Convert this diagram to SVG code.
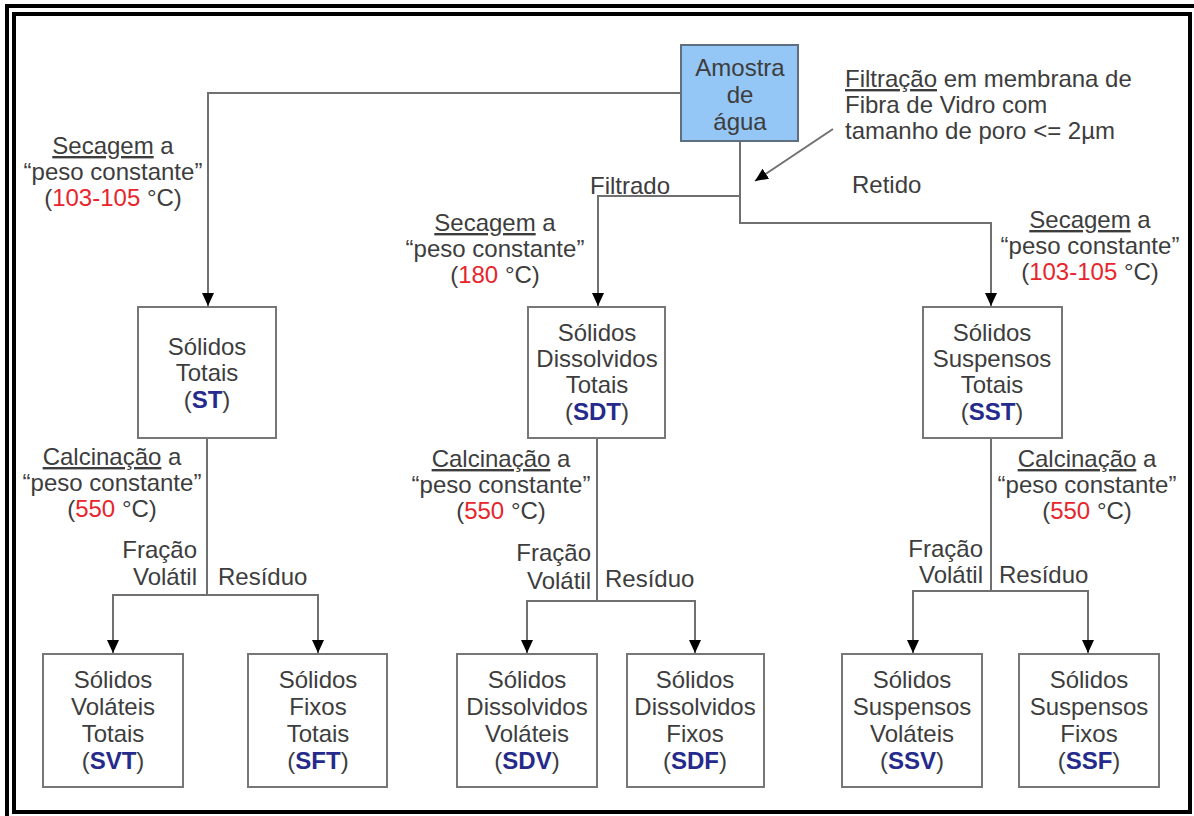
<svg xmlns="http://www.w3.org/2000/svg" width="1194" height="816" viewBox="0 0 1194 816">
<defs>
<marker id="arr" markerUnits="userSpaceOnUse" markerWidth="14" markerHeight="14" refX="13" refY="6" orient="auto">
<path d="M0,0 L13,6 L0,12 Z" fill="#000"/>
</marker>
<style>
text{font-family:"Liberation Sans",Arial,sans-serif;font-size:24px;fill:#3d3d3d}
.c{text-anchor:middle}
.e{text-anchor:end}
.u{text-decoration:underline}
.r{fill:#e8242c}
.b{fill:#252a8c;font-weight:bold}
.box{fill:#fff;stroke:#777;stroke-width:2}
.ln{fill:none;stroke:#707070;stroke-width:2}
</style>
</defs>
<rect x="0" y="0" width="1194" height="816" fill="#fff"/>
<g id="frame">
<rect x="5" y="4" width="1189" height="4" fill="#000"/>
<rect x="5" y="4" width="4" height="812" fill="#000"/>
<rect x="14" y="14" width="1176" height="798" fill="none" stroke="#000" stroke-width="4"/>
</g>
<g id="connectors">
<path class="ln" d="M681,93 H208 V306" marker-end="url(#arr)"/>
<path class="ln" d="M740,141 V196 H598 V306" marker-end="url(#arr)"/>
<path class="ln" d="M740,196 V223 H991 V306" marker-end="url(#arr)"/>
<path class="ln" d="M833,129 L755,181" marker-end="url(#arr)"/>
<path class="ln" d="M207,438 V595 H113 V653" marker-end="url(#arr)"/>
<path class="ln" d="M207,595 H318 V653" marker-end="url(#arr)"/>
<path class="ln" d="M597,438 V601 H527 V653" marker-end="url(#arr)"/>
<path class="ln" d="M597,601 H695 V653" marker-end="url(#arr)"/>
<path class="ln" d="M991,438 V591 H913 V653" marker-end="url(#arr)"/>
<path class="ln" d="M991,591 H1088 V653" marker-end="url(#arr)"/>
</g>
<g id="amostra">
<rect x="681" y="45" width="117" height="96" fill="#94c6f6" stroke="#5f6f80" stroke-width="2"/>
<text class="c" x="740" y="76">Amostra</text>
<text class="c" x="740" y="103">de</text>
<text class="c" x="740" y="130">água</text>
</g>
<g id="st">
<rect class="box" x="138" y="307" width="138" height="131"/>
<text class="c" x="207" y="355">Sólidos</text>
<text class="c" x="207" y="381">Totais</text>
<text class="c" x="207" y="408">(<tspan class="b">ST</tspan>)</text>
</g>
<g id="sdt">
<rect class="box" x="528" y="307" width="137" height="131"/>
<text class="c" x="597" y="341">Sólidos</text>
<text class="c" x="597" y="367">Dissolvidos</text>
<text class="c" x="597" y="393">Totais</text>
<text class="c" x="597" y="420">(<tspan class="b">SDT</tspan>)</text>
</g>
<g id="sst">
<rect class="box" x="923" y="307" width="139" height="131"/>
<text class="c" x="992" y="341">Sólidos</text>
<text class="c" x="992" y="367">Suspensos</text>
<text class="c" x="992" y="393">Totais</text>
<text class="c" x="992" y="420">(<tspan class="b">SST</tspan>)</text>
</g>
<g id="svt">
<rect class="box" x="43" y="654" width="140" height="133"/>
<text class="c" x="113" y="688">Sólidos</text>
<text class="c" x="113" y="715">Voláteis</text>
<text class="c" x="113" y="742">Totais</text>
<text class="c" x="113" y="769">(<tspan class="b">SVT</tspan>)</text>
</g>
<g id="sft">
<rect class="box" x="248" y="654" width="139" height="133"/>
<text class="c" x="318" y="688">Sólidos</text>
<text class="c" x="318" y="715">Fixos</text>
<text class="c" x="318" y="742">Totais</text>
<text class="c" x="318" y="769">(<tspan class="b">SFT</tspan>)</text>
</g>
<g id="sdv">
<rect class="box" x="457" y="654" width="140" height="133"/>
<text class="c" x="527" y="688">Sólidos</text>
<text class="c" x="527" y="715">Dissolvidos</text>
<text class="c" x="527" y="742">Voláteis</text>
<text class="c" x="527" y="769">(<tspan class="b">SDV</tspan>)</text>
</g>
<g id="sdf">
<rect class="box" x="627" y="654" width="137" height="133"/>
<text class="c" x="695" y="688">Sólidos</text>
<text class="c" x="695" y="715">Dissolvidos</text>
<text class="c" x="695" y="742">Fixos</text>
<text class="c" x="695" y="769">(<tspan class="b">SDF</tspan>)</text>
</g>
<g id="ssv">
<rect class="box" x="842" y="654" width="140" height="133"/>
<text class="c" x="912" y="688">Sólidos</text>
<text class="c" x="912" y="715">Suspensos</text>
<text class="c" x="912" y="742">Voláteis</text>
<text class="c" x="912" y="769">(<tspan class="b">SSV</tspan>)</text>
</g>
<g id="ssf">
<rect class="box" x="1019" y="654" width="140" height="133"/>
<text class="c" x="1089" y="688">Sólidos</text>
<text class="c" x="1089" y="715">Suspensos</text>
<text class="c" x="1089" y="742">Fixos</text>
<text class="c" x="1089" y="769">(<tspan class="b">SSF</tspan>)</text>
</g>
<g id="labels">
<text x="845" y="87"><tspan class="u">Filtração</tspan> em membrana de</text>
<text x="845" y="113">Fibra de Vidro com</text>
<text x="845" y="139">tamanho de poro &lt;= 2µm</text>
<text x="590" y="194">Filtrado</text>
<text x="852" y="193">Retido</text>
<text class="c" x="113" y="154"><tspan class="u">Secagem</tspan> a</text>
<text class="c" x="113" y="180">“peso constante”</text>
<text class="c" x="113" y="206">(<tspan class="r">103-105</tspan> °C)</text>
<text class="c" x="495" y="231"><tspan class="u">Secagem</tspan> a</text>
<text class="c" x="495" y="257">“peso constante”</text>
<text class="c" x="495" y="283">(<tspan class="r">180</tspan> °C)</text>
<text class="c" x="1090" y="228"><tspan class="u">Secagem</tspan> a</text>
<text class="c" x="1090" y="254">“peso constante”</text>
<text class="c" x="1090" y="280">(<tspan class="r">103-105</tspan> °C)</text>
<text class="c" x="112" y="465"><tspan class="u">Calcinação</tspan> a</text>
<text class="c" x="112" y="491">“peso constante”</text>
<text class="c" x="112" y="517">(<tspan class="r">550</tspan> °C)</text>
<text class="c" x="501" y="467"><tspan class="u">Calcinação</tspan> a</text>
<text class="c" x="501" y="493">“peso constante”</text>
<text class="c" x="501" y="519">(<tspan class="r">550</tspan> °C)</text>
<text class="c" x="1087" y="467"><tspan class="u">Calcinação</tspan> a</text>
<text class="c" x="1087" y="493">“peso constante”</text>
<text class="c" x="1087" y="519">(<tspan class="r">550</tspan> °C)</text>
<text class="e" x="197" y="558">Fração</text>
<text class="e" x="197" y="585">Volátil</text>
<text x="218" y="585">Resíduo</text>
<text class="e" x="591" y="561">Fração</text>
<text class="e" x="591" y="589">Volátil</text>
<text x="605" y="587">Resíduo</text>
<text class="e" x="983" y="557">Fração</text>
<text class="e" x="983" y="583">Volátil</text>
<text x="999" y="583">Resíduo</text>
</g>
</svg>
